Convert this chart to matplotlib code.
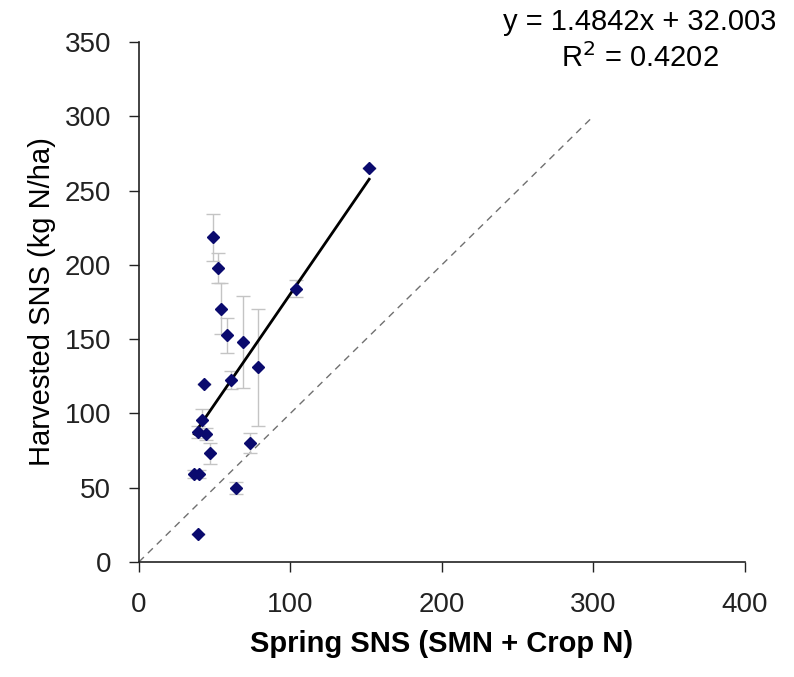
import numpy as np
import matplotlib.pyplot as plt

# values
spring_sns = [152, 104, 49, 52.3, 54.1, 58.3, 68.8, 78.3, 42.9, 60.5,
              41.4, 39.2, 44.2, 46.9, 73.3, 36.5, 39.8, 64, 38.7]
harvested_sns = [265, 184, 218.5, 198, 170.5, 152.5, 148, 131, 119.6, 122.5,
                 95.6, 87.7, 86, 73.1, 80, 59.2, 59.2, 49.6, 18.6]
harvested_err = [0, 6, 16, 10, 17, 12, 31, 39.5, 0, 6,
                 7, 4, 4, 7, 7, 3, 3, 4, 0]

slope = 1.4842
intercept = 32.003
r_squared = 0.4202
one_to_one = [0, 300]

x_ticks = [0, 100, 200, 300, 400]
y_ticks = [0, 50, 100, 150, 200, 250, 300, 350]

plt.rcParams['font.family'] = ['Liberation Sans', 'DejaVu Sans']

fig = plt.figure(figsize=(7.94, 6.77), dpi=100)
ax = fig.add_axes([0.175, 0.170, 0.763, 0.768])

# 1:1 reference line
ax.plot(one_to_one, one_to_one, color='#707070', linestyle=(0, (5, 4)),
        linewidth=1, zorder=1)

# error bars and points
ax.errorbar(spring_sns, harvested_sns, yerr=harvested_err, fmt='none',
            ecolor='#c4c4c4', elinewidth=1, capsize=5, capthick=1, zorder=2)
ax.plot(spring_sns, harvested_sns, linestyle='none', marker='D',
        markersize=6.5, color='#0a0a6e', zorder=4)

# linear trendline over the data range
xs = np.array([min(spring_sns), max(spring_sns)])
ax.plot(xs, slope * xs + intercept, color='black', linewidth=2, zorder=3)

ax.set_xlim(0, 400)
ax.set_ylim(0, 350)
ax.set_xticks(x_ticks)
ax.set_yticks(y_ticks)
ax.tick_params(axis='both', direction='out', length=7, width=1,
               labelsize=20, colors='#222222')
ax.tick_params(axis='y', pad=13)
ax.tick_params(axis='x', pad=15)

for side in ['top', 'right']:
    ax.spines[side].set_visible(False)
for side in ['left', 'bottom']:
    ax.spines[side].set_linewidth(1.2)
    ax.spines[side].set_color('#222222')

ax.set_xlabel('Spring SNS (SMN + Crop N)', fontsize=21, fontweight='bold',
              family=['Liberation Sans Narrow', 'Liberation Sans'], labelpad=8)
ax.set_ylabel('Harvested SNS (kg N/ha)', fontsize=21, labelpad=6)

fig.text(0.806, 0.967, f'y = {slope}x + {intercept:.3f}', ha='center',
         va='center', fontsize=21)
fig.text(0.806, 0.914, f'R$^2$ = {r_squared}', ha='center', va='center',
         fontsize=21)

fig.savefig('out.png', dpi=100)
